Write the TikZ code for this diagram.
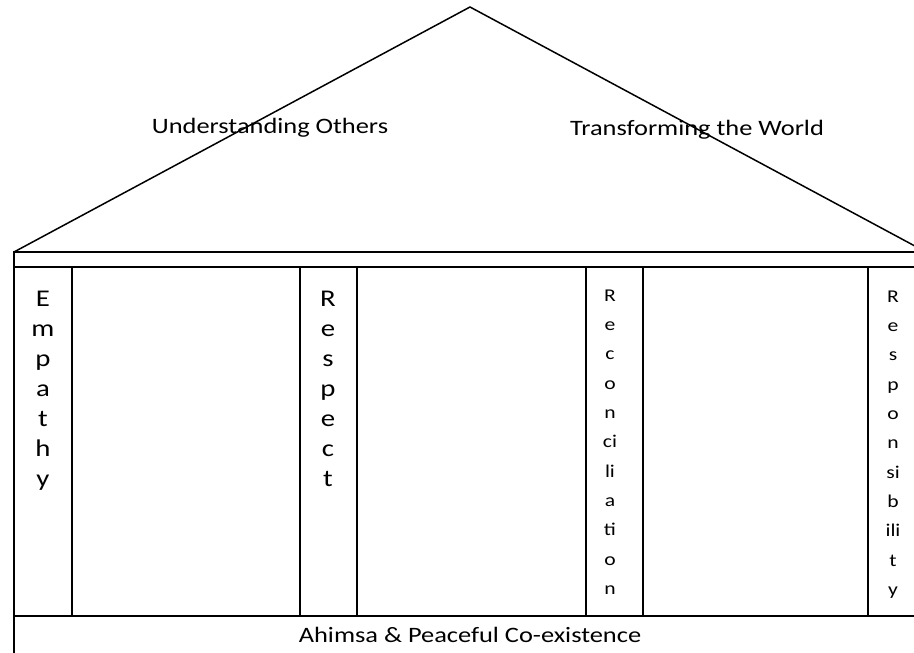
\documentclass[tikz,border=0pt]{standalone}
\usepackage{fontspec}
\setmainfont{Carlito}
\newcommand{\widetext}[1]{\scalebox{1.2}[1.0]{#1}}
\newcommand{\stackletters}[1]{\widetext{\begin{tabular}{@{}c@{}}#1\end{tabular}}}
\begin{document}
\begin{tikzpicture}[
    x=1pt, y=1pt,
    edge/.style={draw, line width=1.5pt},
    lbl/.style={font=\fontsize{22}{26}\selectfont, inner sep=0pt},
    bigcol/.style={font=\fontsize{24}{30}\selectfont, inner sep=0pt},
    smallcol/.style={font=\fontsize{18}{29.3}\selectfont, inner sep=0pt},
]
\useasboundingbox (0,0) rectangle (914,653);
\clip (0,0) rectangle (914,653);

% roof
\draw[edge] (14,401) -- (470,646) -- (926,401);

% beam and base
\draw[edge] (14,401) rectangle (926,386);
\draw[edge] (14,37) rectangle (926,-10);

% pillars
\draw[edge] (14,386) rectangle (72,37);
\draw[edge] (300,386) rectangle (357,37);
\draw[edge] (586,386) rectangle (643,37);
\draw[edge] (868,386) rectangle (926,37);

% roof labels
\node[lbl] (under) at (270,525) {\widetext{Understanding Others}};
\node[lbl] (trans) at (697,523) {\widetext{Transforming the World}};

% pillar labels
\node[bigcol]   (empathy) at (43,262)  {\stackletters{E\\m\\p\\a\\t\\h\\y}};
\node[bigcol]   (respect) at (328,262) {\stackletters{R\\e\\s\\p\\e\\c\\t}};
\node[smallcol] (recon)   at (610,211) {\stackletters{R\\e\\c\\o\\n\\ci\\li\\a\\ti\\o\\n}};
\node[smallcol] (respons) at (893,210) {\stackletters{R\\e\\s\\p\\o\\n\\si\\b\\ili\\t\\y}};

% base label
\node[lbl] (ahimsa) at (470,18) {\widetext{Ahimsa \& Peaceful Co-existence}};

\end{tikzpicture}
\end{document}
